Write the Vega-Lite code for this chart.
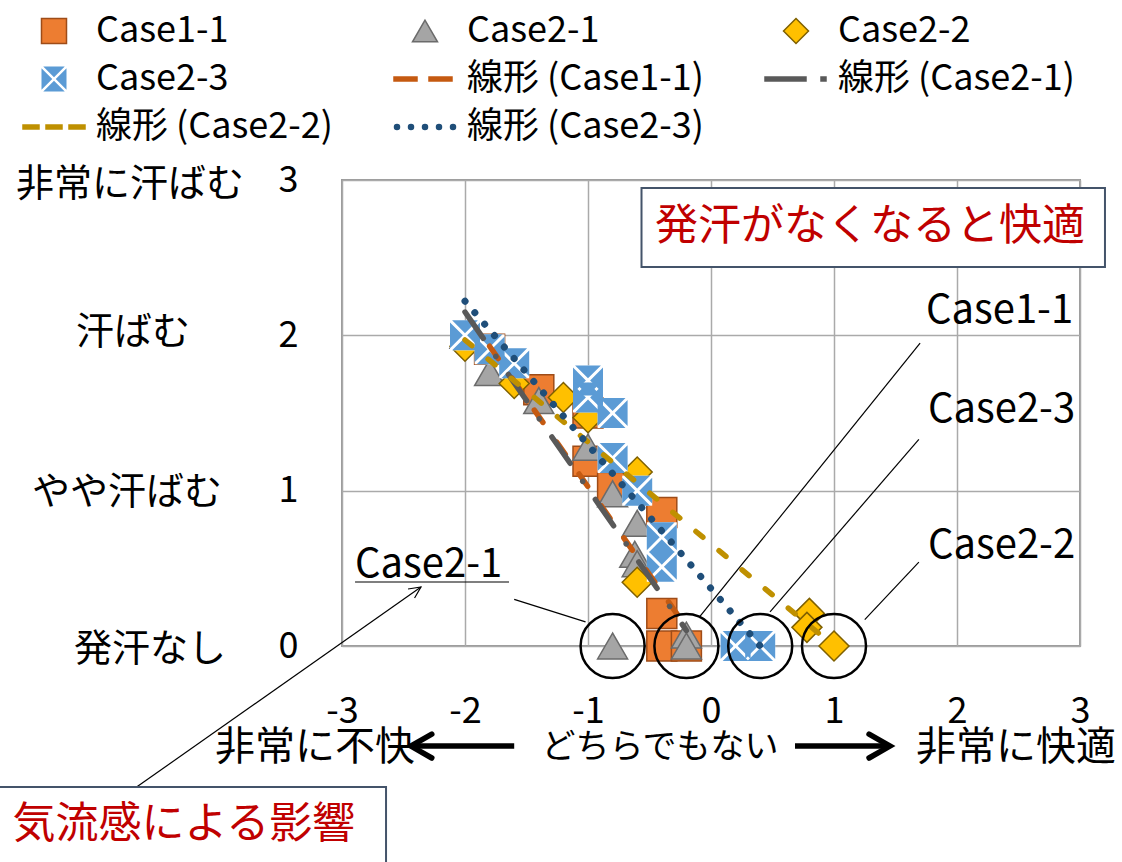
{
  "$schema": "https://vega.github.io/schema/vega-lite/v6.json",
  "width": 738,
  "height": 466,
  "autosize": {"type": "none"},
  "padding": {"left": 342, "top": 180, "right": 42, "bottom": 216},
  "background": "white",
  "config": {"font": "Noto Sans CJK JP", "view": {"stroke": "#9A9A9A", "strokeWidth": 2}},
  "datasets": {
    "pts": [
      {"series": "Case1-1", "x": -1.8, "y": 1.91},
      {"series": "Case1-1", "x": -1.4, "y": 1.65},
      {"series": "Case1-1", "x": -1.0, "y": 1.5},
      {"series": "Case1-1", "x": -1.0, "y": 1.19},
      {"series": "Case1-1", "x": -0.8, "y": 1.02},
      {"series": "Case1-1", "x": -0.4, "y": 0.86},
      {"series": "Case1-1", "x": -0.4, "y": 0.21},
      {"series": "Case1-1", "x": -0.4, "y": 0.0},
      {"series": "Case1-1", "x": -0.2, "y": 0.0},
      {"series": "Case2-1", "x": -2.0, "y": 2.0},
      {"series": "Case2-1", "x": -1.8, "y": 1.76},
      {"series": "Case2-1", "x": -1.4, "y": 1.58},
      {"series": "Case2-1", "x": -1.0, "y": 1.28},
      {"series": "Case2-1", "x": -0.8, "y": 0.98},
      {"series": "Case2-1", "x": -0.6, "y": 0.79},
      {"series": "Case2-1", "x": -0.62, "y": 0.59},
      {"series": "Case2-1", "x": -0.6, "y": 0.53},
      {"series": "Case2-1", "x": -0.8, "y": 0.0},
      {"series": "Case2-1", "x": -0.2, "y": 0.07},
      {"series": "Case2-1", "x": -0.2, "y": 0.0},
      {"series": "Case2-2", "x": -2.0, "y": 1.93},
      {"series": "Case2-2", "x": -1.6, "y": 1.69},
      {"series": "Case2-2", "x": -1.2, "y": 1.6},
      {"series": "Case2-2", "x": -1.0, "y": 1.47},
      {"series": "Case2-2", "x": -0.6, "y": 1.12},
      {"series": "Case2-2", "x": -0.6, "y": 0.41},
      {"series": "Case2-2", "x": 0.8, "y": 0.21},
      {"series": "Case2-2", "x": 0.78, "y": 0.12},
      {"series": "Case2-2", "x": 1.0, "y": 0.0},
      {"series": "Case2-3", "x": -2.0, "y": 2.0},
      {"series": "Case2-3", "x": -1.8, "y": 1.91},
      {"series": "Case2-3", "x": -1.6, "y": 1.82},
      {"series": "Case2-3", "x": -1.0, "y": 1.71},
      {"series": "Case2-3", "x": -1.0, "y": 1.6},
      {"series": "Case2-3", "x": -0.8, "y": 1.5},
      {"series": "Case2-3", "x": -0.8, "y": 1.21},
      {"series": "Case2-3", "x": -0.6, "y": 1.0},
      {"series": "Case2-3", "x": -0.4, "y": 0.7},
      {"series": "Case2-3", "x": -0.4, "y": 0.51},
      {"series": "Case2-3", "x": 0.2, "y": 0.0},
      {"series": "Case2-3", "x": 0.4, "y": 0.0}
    ],
    "trend": [
      {"series": "線形 (Case1-1)", "x": -1.8, "y": 1.93},
      {"series": "線形 (Case1-1)", "x": -0.2, "y": 0.12},
      {"series": "線形 (Case2-1)", "x": -2.0, "y": 2.15},
      {"series": "線形 (Case2-1)", "x": -0.2, "y": 0.1},
      {"series": "線形 (Case2-2)", "x": -2.0, "y": 1.97},
      {"series": "線形 (Case2-2)", "x": 1.0, "y": 0.0},
      {"series": "線形 (Case2-3)", "x": -2.0, "y": 2.22},
      {"series": "線形 (Case2-3)", "x": 0.4, "y": 0.0}
    ],
    "circles": [
      {"x": -0.8, "y": 0}, {"x": -0.2, "y": 0}, {"x": 0.4, "y": 0}, {"x": 1.0, "y": 0}
    ],
    "thin": [
      {"x": 1.70, "y": 1.95, "x2": -0.09, "y2": 0.19},
      {"x": 1.69, "y": 1.33, "x2": 0.48, "y2": 0.22},
      {"x": 1.69, "y": 0.54, "x2": 1.25, "y2": 0.17},
      {"x": -1.60, "y": 0.30, "x2": -1.02, "y2": 0.155},
      {"x": -4.67, "y": -0.908, "x2": -2.358, "y2": 0.38},
      {"x": -2.894, "y": 0.412, "x2": -1.642, "y2": 0.412}
    ],
    "thinHead": [
      {"o": 1, "x": -2.463, "y": 0.367},
      {"o": 2, "x": -2.358, "y": 0.38},
      {"o": 3, "x": -2.41, "y": 0.309}
    ],
    "thick": [
      {"x": -1.60, "y": -0.644, "x2": -2.42, "y2": -0.644},
      {"x": 0.683, "y": -0.644, "x2": 1.44, "y2": -0.644}
    ],
    "thickHead": [
      {"g": "L", "o": 1, "x": -2.27, "y": -0.567},
      {"g": "L", "o": 2, "x": -2.44, "y": -0.644},
      {"g": "L", "o": 3, "x": -2.27, "y": -0.721},
      {"g": "R", "o": 1, "x": 1.285, "y": -0.567},
      {"g": "R", "o": 2, "x": 1.455, "y": -0.644},
      {"g": "R", "o": 3, "x": 1.285, "y": -0.721}
    ],
    "boxes": [
      {"x": -0.565, "x2": 3.203, "y": 2.949, "y2": 2.44},
      {"x": -5.9, "x2": -2.642, "y": -0.908, "y2": -1.5}
    ],
    "ylabels": [
      {"label": "非常に汗ばむ", "x": -4.724, "y": 2.968},
      {"label": "汗ばむ", "x": -4.699, "y": 2.015},
      {"label": "やや汗ばむ", "x": -4.748, "y": 0.985},
      {"label": "発汗なし", "x": -4.561, "y": -0.026}
    ],
    "xlabels": [
      {"label": "非常に不快", "x": -3.22, "y": -0.657},
      {"label": "非常に快適", "x": 2.48, "y": -0.657}
    ],
    "midlabel": [
      {"label": "どちらでもない", "x": -0.415, "y": -0.657}
    ],
    "caselabels": [
      {"label": "Case1-1", "x": 1.748, "y": 2.08},
      {"label": "Case2-3", "x": 1.764, "y": 1.442},
      {"label": "Case2-2", "x": 1.764, "y": 0.567},
      {"label": "Case2-1", "x": -2.894, "y": 0.444}
    ],
    "redlabels": [
      {"label": "発汗がなくなると快適", "x": 1.293, "y": 2.698},
      {"label": "気流感による影響", "x": -4.285, "y": -1.153}
    ]
  },
  "layer": [
    {
      "data": {"name": "pts"},
      "transform": [{"filter": "datum.series !== 'Case2-3'"}],
      "mark": {"type": "point", "filled": true, "size": 900, "strokeWidth": 1.5, "opacity": 1, "clip": false},
      "encoding": {
        "x": {"field": "x", "type": "quantitative", "scale": {"domain": [-3, 3], "nice": false, "zero": false},
          "axis": {"title": null, "values": [-3, -2, -1, 0, 1, 2, 3], "labelExpr": "'' + datum.value", "labelFontSize": 36, "labelColor": "black", "labelPadding": 48, "ticks": false, "domain": false, "grid": true, "gridColor": "#AAAAAA", "gridWidth": 1.5, "labelFlush": false, "labelOverlap": false}},
        "y": {"field": "y", "type": "quantitative", "scale": {"domain": [0, 3], "nice": false, "zero": false},
          "axis": {"title": null, "values": [0, 1, 2, 3], "labelExpr": "'' + datum.value", "labelFontSize": 36, "labelColor": "black", "labelPadding": 44, "ticks": false, "domain": false, "grid": true, "gridColor": "#AAAAAA", "gridWidth": 1.5, "labelFlush": false, "labelOverlap": false}},
        "fill": {"field": "series", "type": "nominal",
          "scale": {"domain": ["Case1-1", "Case2-1", "Case2-2", "Case2-3", "線形 (Case1-1)", "線形 (Case2-1)", "線形 (Case2-2)", "線形 (Case2-3)"],
            "range": ["#ED7D31", "#A5A5A5", "#FFC000", "#5B9BD5", "#C55A11", "#595959", "#BF9000", "#1F4E79"]},
          "legend": {"title": null, "orient": "none", "direction": "horizontal", "legendX": -306, "legendY": -167, "columns": 3, "columnPadding": 58, "rowPadding": 12, "padding": 0,
            "labelFont": "Noto Sans CJK JP", "labelFontSize": 36, "labelColor": "black", "labelOffset": 24, "labelLimit": 600, "symbolSize": 625}},
        "stroke": {"field": "series", "type": "nominal",
          "scale": {"domain": ["Case1-1", "Case2-1", "Case2-2", "Case2-3", "線形 (Case1-1)", "線形 (Case2-1)", "線形 (Case2-2)", "線形 (Case2-3)"],
            "range": ["#9E4C18", "#6B6B6B", "#7F6000", "transparent", "#C55A11", "#595959", "#BF9000", "#1F4E79"]}},
        "shape": {"field": "series", "type": "nominal",
          "scale": {"domain": ["Case1-1", "Case2-1", "Case2-2", "Case2-3", "線形 (Case1-1)", "線形 (Case2-1)", "線形 (Case2-2)", "線形 (Case2-3)"],
            "range": ["square", "triangle-up", "diamond",
              "M-0.86,-1L0.86,-1L0,-0.14Z M1,-0.86L1,0.86L0.14,0Z M0.86,1L-0.86,1L0,0.14Z M-1,0.86L-1,-0.86L-0.14,0Z",
              "M-2.48,-0.16H-0.64V0.16H-2.48Z M0.32,-0.16H2.16V0.16H0.32Z",
              "M-2.48,-0.16H0.8V0.16H-2.48Z M2.0,-0.16H2.4V0.16H2.0Z",
              "M-2.48,-0.16H-1.2V0.16H-2.48Z M-0.64,-0.16H0.64V0.16H-0.64Z M1.2,-0.16H2.48V0.16H1.2Z",
              "M-2.44,0a0.2,0.2 0 1,0 0.4,0a0.2,0.2 0 1,0 -0.4,0Z M-1.32,0a0.2,0.2 0 1,0 0.4,0a0.2,0.2 0 1,0 -0.4,0Z M-0.2,0a0.2,0.2 0 1,0 0.4,0a0.2,0.2 0 1,0 -0.4,0Z M0.92,0a0.2,0.2 0 1,0 0.4,0a0.2,0.2 0 1,0 -0.4,0Z M2.04,0a0.2,0.2 0 1,0 0.4,0a0.2,0.2 0 1,0 -0.4,0Z"]}}
      }
    },
    {
      "data": {"name": "pts"},
      "transform": [{"filter": "datum.series === 'Case2-3'"}],
      "mark": {"type": "point", "filled": true, "shape": "square", "size": 900, "fill": "white", "strokeWidth": 0, "opacity": 1, "clip": false},
      "encoding": {
        "x": {"field": "x", "type": "quantitative", "scale": {"domain": [-3, 3], "nice": false, "zero": false}},
        "y": {"field": "y", "type": "quantitative", "scale": {"domain": [0, 3], "nice": false, "zero": false}}
      }
    },
    {
      "data": {"name": "pts"},
      "transform": [{"filter": "datum.series === 'Case2-3'"}],
      "mark": {"type": "point", "filled": true, "size": 900, "strokeWidth": 0, "opacity": 1, "clip": false},
      "encoding": {
        "x": {"field": "x", "type": "quantitative", "scale": {"domain": [-3, 3], "nice": false, "zero": false}},
        "y": {"field": "y", "type": "quantitative", "scale": {"domain": [0, 3], "nice": false, "zero": false}},
        "fill": {"field": "series", "type": "nominal"},
        "shape": {"field": "series", "type": "nominal"}
      }
    },
    {
      "data": {"name": "trend"},
      "transform": [{"filter": "datum.series !== '線形 (Case2-3)'"}],
      "mark": {"type": "line", "strokeWidth": 5.5, "strokeCap": "round", "clip": false},
      "encoding": {
        "x": {"field": "x", "type": "quantitative", "scale": {"domain": [-3, 3], "nice": false, "zero": false}},
        "y": {"field": "y", "type": "quantitative", "scale": {"domain": [0, 3], "nice": false, "zero": false}},
        "stroke": {"field": "series", "type": "nominal"},
        "strokeDash": {"field": "series", "type": "nominal",
          "scale": {"domain": ["線形 (Case1-1)", "線形 (Case2-1)", "線形 (Case2-2)", "線形 (Case2-3)"],
            "range": [[15, 24], [32, 22, 0.1, 22], [9, 21], [0.1, 15]]},
          "legend": null}
      }
    },
    {
      "data": {"name": "trend"},
      "transform": [{"filter": "datum.series === '線形 (Case2-3)'"}],
      "mark": {"type": "line", "strokeWidth": 7, "strokeCap": "round", "clip": false},
      "encoding": {
        "x": {"field": "x", "type": "quantitative", "scale": {"domain": [-3, 3], "nice": false, "zero": false}},
        "y": {"field": "y", "type": "quantitative", "scale": {"domain": [0, 3], "nice": false, "zero": false}},
        "stroke": {"field": "series", "type": "nominal"},
        "strokeDash": {"field": "series", "type": "nominal", "legend": null}
      }
    },
    {
      "data": {"name": "circles"},
      "mark": {"type": "point", "shape": "circle", "filled": false, "size": 4100, "stroke": "black", "strokeWidth": 2.5, "opacity": 1, "clip": false},
      "encoding": {
        "x": {"field": "x", "type": "quantitative", "scale": {"domain": [-3, 3], "nice": false, "zero": false}},
        "y": {"field": "y", "type": "quantitative", "scale": {"domain": [0, 3], "nice": false, "zero": false}}
      }
    },
    {
      "data": {"name": "thin"},
      "mark": {"type": "rule", "stroke": "black", "strokeWidth": 1.2, "clip": false},
      "encoding": {
        "x": {"field": "x", "type": "quantitative", "scale": {"domain": [-3, 3], "nice": false, "zero": false}},
        "y": {"field": "y", "type": "quantitative", "scale": {"domain": [0, 3], "nice": false, "zero": false}},
        "x2": {"field": "x2"},
        "y2": {"field": "y2"}
      }
    },
    {
      "data": {"name": "thinHead"},
      "mark": {"type": "line", "stroke": "black", "strokeWidth": 1.2, "clip": false},
      "encoding": {
        "x": {"field": "x", "type": "quantitative", "scale": {"domain": [-3, 3], "nice": false, "zero": false}},
        "y": {"field": "y", "type": "quantitative", "scale": {"domain": [0, 3], "nice": false, "zero": false}},
        "order": {"field": "o", "type": "quantitative"}
      }
    },
    {
      "data": {"name": "thick"},
      "mark": {"type": "rule", "stroke": "black", "strokeWidth": 5.5, "clip": false},
      "encoding": {
        "x": {"field": "x", "type": "quantitative", "scale": {"domain": [-3, 3], "nice": false, "zero": false}},
        "y": {"field": "y", "type": "quantitative", "scale": {"domain": [0, 3], "nice": false, "zero": false}},
        "x2": {"field": "x2"},
        "y2": {"field": "y2"}
      }
    },
    {
      "data": {"name": "thickHead"},
      "mark": {"type": "line", "stroke": "black", "strokeWidth": 5.5, "strokeJoin": "miter", "strokeCap": "round", "clip": false},
      "encoding": {
        "x": {"field": "x", "type": "quantitative", "scale": {"domain": [-3, 3], "nice": false, "zero": false}},
        "y": {"field": "y", "type": "quantitative", "scale": {"domain": [0, 3], "nice": false, "zero": false}},
        "detail": {"field": "g", "type": "nominal"},
        "order": {"field": "o", "type": "quantitative"}
      }
    },
    {
      "data": {"name": "boxes"},
      "mark": {"type": "rect", "fill": "white", "stroke": "#44546A", "strokeWidth": 2, "clip": false},
      "encoding": {
        "x": {"field": "x", "type": "quantitative", "scale": {"domain": [-3, 3], "nice": false, "zero": false}},
        "y": {"field": "y", "type": "quantitative", "scale": {"domain": [0, 3], "nice": false, "zero": false}},
        "x2": {"field": "x2"},
        "y2": {"field": "y2"}
      }
    },
    {
      "data": {"name": "ylabels"},
      "mark": {"type": "text", "fontSize": 38, "align": "center", "baseline": "middle", "color": "black", "clip": false},
      "encoding": {
        "x": {"field": "x", "type": "quantitative", "scale": {"domain": [-3, 3], "nice": false, "zero": false}},
        "y": {"field": "y", "type": "quantitative", "scale": {"domain": [0, 3], "nice": false, "zero": false}},
        "text": {"field": "label"}
      }
    },
    {
      "data": {"name": "xlabels"},
      "mark": {"type": "text", "fontSize": 40, "align": "center", "baseline": "middle", "color": "black", "clip": false},
      "encoding": {
        "x": {"field": "x", "type": "quantitative", "scale": {"domain": [-3, 3], "nice": false, "zero": false}},
        "y": {"field": "y", "type": "quantitative", "scale": {"domain": [0, 3], "nice": false, "zero": false}},
        "text": {"field": "label"}
      }
    },
    {
      "data": {"name": "midlabel"},
      "mark": {"type": "text", "fontSize": 34, "align": "center", "baseline": "middle", "color": "black", "clip": false},
      "encoding": {
        "x": {"field": "x", "type": "quantitative", "scale": {"domain": [-3, 3], "nice": false, "zero": false}},
        "y": {"field": "y", "type": "quantitative", "scale": {"domain": [0, 3], "nice": false, "zero": false}},
        "text": {"field": "label"}
      }
    },
    {
      "data": {"name": "caselabels"},
      "mark": {"type": "text", "fontSize": 40, "align": "left", "baseline": "alphabetic", "color": "black", "clip": false},
      "encoding": {
        "x": {"field": "x", "type": "quantitative", "scale": {"domain": [-3, 3], "nice": false, "zero": false}},
        "y": {"field": "y", "type": "quantitative", "scale": {"domain": [0, 3], "nice": false, "zero": false}},
        "text": {"field": "label"}
      }
    },
    {
      "data": {"name": "redlabels"},
      "mark": {"type": "text", "fontSize": 43, "align": "center", "baseline": "middle", "color": "#C00000", "clip": false},
      "encoding": {
        "x": {"field": "x", "type": "quantitative", "scale": {"domain": [-3, 3], "nice": false, "zero": false}},
        "y": {"field": "y", "type": "quantitative", "scale": {"domain": [0, 3], "nice": false, "zero": false}},
        "text": {"field": "label"}
      }
    }
  ]
}
